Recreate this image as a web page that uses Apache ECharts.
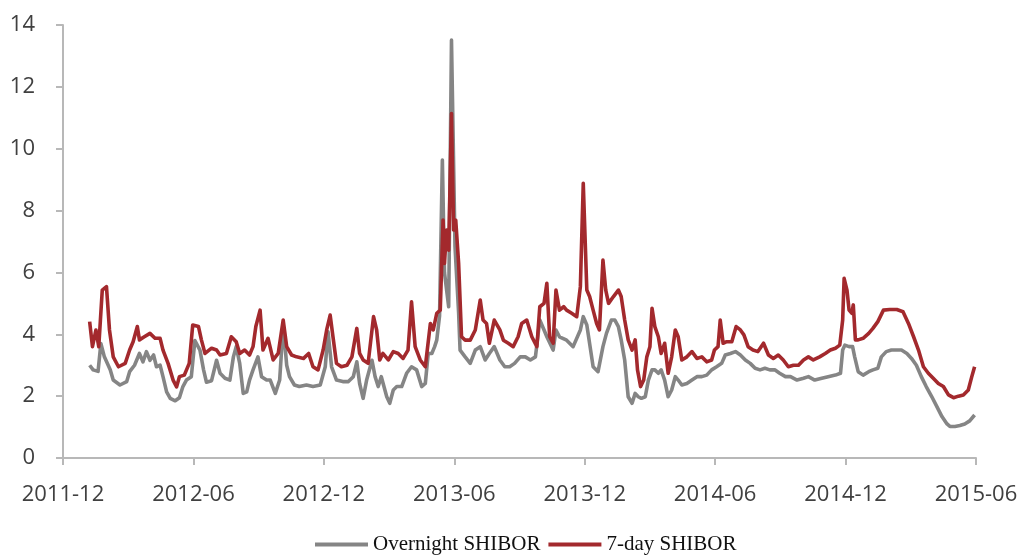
<!DOCTYPE html>
<html>
<head>
<meta charset="utf-8">
<script src="https://cdn.jsdelivr.net/npm/echarts@6/dist/echarts.min.js"></script>
<style>
html,body{margin:0;padding:0;background:#fff;}
#chart{width:1022px;height:556px;}
</style>
</head>
<body>
<div id="chart"></div>
<script>
// x-axis tick labels (every 6 months from 2011-12)
const tickLabels = ['2011-12','2012-06','2012-12','2013-06','2013-12','2014-06','2014-12','2015-06'];

// Overnight SHIBOR (%)
const ovDates = [
'2012-01-08','2012-01-13','2012-01-20','2012-01-24','2012-01-29','2012-02-06','2012-02-10','2012-02-19','2012-02-28','2012-03-03',
'2012-03-10','2012-03-17','2012-03-22','2012-03-27','2012-04-01','2012-04-06','2012-04-10','2012-04-15','2012-04-19','2012-04-24',
'2012-04-29','2012-05-06','2012-05-12','2012-05-17','2012-05-22','2012-05-29','2012-06-03','2012-06-10','2012-06-15','2012-06-19',
'2012-06-26','2012-07-03','2012-07-08','2012-07-15','2012-07-22','2012-07-27','2012-07-31','2012-08-05','2012-08-10','2012-08-15',
'2012-08-19','2012-08-24','2012-08-31','2012-09-05','2012-09-12','2012-09-17','2012-09-24','2012-09-30','2012-10-05','2012-10-10',
'2012-10-14','2012-10-21','2012-10-28','2012-11-07','2012-11-16','2012-11-26','2012-12-03','2012-12-07','2012-12-12','2012-12-19',
'2012-12-28','2013-01-05','2013-01-12','2013-01-17','2013-01-21','2013-01-26','2013-01-31','2013-02-07','2013-02-11','2013-02-15',
'2013-02-19','2013-02-26','2013-03-02','2013-03-07','2013-03-12','2013-03-19','2013-03-26','2013-04-02','2013-04-09','2013-04-16',
'2013-04-21','2013-04-25','2013-04-30','2013-05-04','2013-05-07','2013-05-11','2013-05-15','2013-05-18','2013-05-24','2013-05-28',
'2013-06-02','2013-06-07','2013-06-09','2013-06-16','2013-06-23','2013-06-30','2013-07-07','2013-07-14','2013-07-20','2013-07-27',
'2013-08-04','2013-08-11','2013-08-18','2013-08-25','2013-09-02','2013-09-09','2013-09-16','2013-09-23','2013-09-29','2013-10-05',
'2013-10-09','2013-10-18','2013-10-22','2013-10-27','2013-11-06','2013-11-15','2013-11-25','2013-11-29','2013-12-04','2013-12-13',
'2013-12-20','2013-12-27','2014-01-01','2014-01-08','2014-01-13','2014-01-18','2014-01-22','2014-01-27','2014-02-01','2014-02-06',
'2014-02-10','2014-02-14','2014-02-18','2014-02-23','2014-02-27','2014-03-04','2014-03-08','2014-03-13','2014-03-17','2014-03-22',
'2014-03-27','2014-04-01','2014-04-06','2014-04-10','2014-04-15','2014-04-22','2014-04-29','2014-05-06','2014-05-13','2014-05-20',
'2014-05-27','2014-06-03','2014-06-10','2014-06-15','2014-06-22','2014-06-29','2014-07-06','2014-07-13','2014-07-20','2014-07-27',
'2014-08-03','2014-08-10','2014-08-17','2014-08-24','2014-08-31','2014-09-08','2014-09-15','2014-09-24','2014-10-03','2014-10-10',
'2014-10-19','2014-10-29','2014-11-07','2014-11-17','2014-11-24','2014-11-27','2014-11-30','2014-12-06','2014-12-11','2014-12-14',
'2014-12-19','2014-12-26','2015-01-03','2015-01-09','2015-01-16','2015-01-21','2015-01-28','2015-02-04','2015-02-11','2015-02-17',
'2015-02-24','2015-03-02','2015-03-09','2015-03-16','2015-03-23','2015-03-31','2015-04-07','2015-04-14','2015-04-21','2015-04-25',
'2015-05-02','2015-05-09','2015-05-16','2015-05-23','2015-05-30'
];
const ovValues = [
3.0,2.85,2.8,3.7,3.27,2.85,2.52,2.36,2.47,2.79,
3.0,3.38,3.11,3.44,3.16,3.33,2.95,3.0,2.63,2.14,
1.93,1.85,1.95,2.31,2.52,2.63,3.8,3.49,2.85,2.45,
2.5,3.16,2.74,2.58,2.52,3.27,3.6,3.06,2.09,2.14,
2.52,2.85,3.27,2.63,2.52,2.52,2.09,2.52,4.3,3.0,
2.63,2.36,2.31,2.36,2.31,2.36,2.95,4.08,2.95,2.52,
2.47,2.47,2.63,3.11,2.41,1.93,2.52,3.16,2.63,2.31,
2.63,1.98,1.77,2.2,2.31,2.31,2.74,2.95,2.85,2.31,
2.41,3.38,3.38,3.6,3.81,4.6,9.63,6.0,4.89,13.51,
6.83,4.68,3.49,3.27,3.06,3.49,3.6,3.17,3.38,3.6,
3.17,2.95,2.95,3.06,3.27,3.27,3.17,3.27,4.46,4.14,
3.92,3.49,4.14,3.92,3.81,3.6,4.14,4.57,4.3,2.95,
2.79,3.6,4.03,4.46,4.46,4.25,3.82,3.17,1.98,1.77,
2.09,1.98,1.93,1.98,2.52,2.85,2.85,2.74,2.85,2.52,
1.98,2.2,2.63,2.52,2.36,2.41,2.52,2.63,2.63,2.68,
2.85,2.95,3.06,3.33,3.38,3.44,3.33,3.17,3.06,2.9,
2.85,2.9,2.85,2.85,2.74,2.63,2.63,2.52,2.58,2.63,
2.52,2.58,2.63,2.68,2.74,3.49,3.65,3.6,3.6,3.27,
2.79,2.68,2.79,2.85,2.9,3.27,3.44,3.49,3.49,3.49,
3.38,3.22,3.0,2.63,2.31,1.98,1.66,1.34,1.1,1.02,
1.02,1.05,1.1,1.2,1.39
];

// 7-day SHIBOR (%)
const sdDates = [
'2012-01-08','2012-01-12','2012-01-17','2012-01-21','2012-01-26','2012-02-01','2012-02-05','2012-02-10','2012-02-17','2012-02-26',
'2012-03-03','2012-03-08','2012-03-14','2012-03-17','2012-03-24','2012-04-01','2012-04-08','2012-04-15','2012-04-19','2012-04-26',
'2012-05-03','2012-05-08','2012-05-12','2012-05-19','2012-05-26','2012-05-31','2012-06-08','2012-06-12','2012-06-17','2012-06-26',
'2012-07-03','2012-07-08','2012-07-17','2012-07-24','2012-07-31','2012-08-05','2012-08-12','2012-08-19','2012-08-24','2012-08-28',
'2012-09-03','2012-09-07','2012-09-14','2012-09-21','2012-09-28','2012-10-05','2012-10-10','2012-10-17','2012-10-24','2012-11-03',
'2012-11-10','2012-11-16','2012-11-23','2012-11-30','2012-12-05','2012-12-10','2012-12-14','2012-12-19','2012-12-26','2013-01-03',
'2013-01-10','2013-01-17','2013-01-21','2013-01-26','2013-02-02','2013-02-09','2013-02-13','2013-02-17','2013-02-21','2013-02-28',
'2013-03-07','2013-03-14','2013-03-21','2013-03-28','2013-04-02','2013-04-07','2013-04-14','2013-04-21','2013-04-28','2013-05-02',
'2013-05-07','2013-05-12','2013-05-16','2013-05-18','2013-05-21','2013-05-24','2013-05-28','2013-05-31','2013-06-03','2013-06-07',
'2013-06-11','2013-06-16','2013-06-23','2013-06-30','2013-07-07','2013-07-11','2013-07-16','2013-07-20','2013-07-27','2013-08-04',
'2013-08-09','2013-08-16','2013-08-23','2013-08-30','2013-09-04','2013-09-11','2013-09-18','2013-09-25','2013-09-29','2013-10-05',
'2013-10-09','2013-10-13','2013-10-18','2013-10-22','2013-10-27','2013-11-02','2013-11-06','2013-11-13','2013-11-20','2013-11-25',
'2013-11-29','2013-12-04','2013-12-08','2013-12-13','2013-12-18','2013-12-22','2013-12-27','2013-12-31','2014-01-04','2014-01-11',
'2014-01-18','2014-01-22','2014-01-27','2014-02-01','2014-02-06','2014-02-10','2014-02-13','2014-02-17','2014-02-21','2014-02-25',
'2014-03-01','2014-03-04','2014-03-08','2014-03-13','2014-03-17','2014-03-22','2014-03-27','2014-04-01','2014-04-06','2014-04-10',
'2014-04-15','2014-04-22','2014-04-29','2014-05-06','2014-05-13','2014-05-20','2014-05-27','2014-05-31','2014-06-05','2014-06-08',
'2014-06-12','2014-06-17','2014-06-24','2014-06-30','2014-07-06','2014-07-11','2014-07-17','2014-07-24','2014-07-31','2014-08-08',
'2014-08-15','2014-08-22','2014-08-29','2014-09-05','2014-09-12','2014-09-19','2014-09-26','2014-10-03','2014-10-10','2014-10-17',
'2014-10-26','2014-11-03','2014-11-10','2014-11-17','2014-11-23','2014-11-27','2014-11-29','2014-12-03','2014-12-06','2014-12-10',
'2014-12-12','2014-12-15','2014-12-19','2014-12-26','2015-01-03','2015-01-09','2015-01-16','2015-01-24','2015-02-02','2015-02-11',
'2015-02-19','2015-02-26','2015-03-05','2015-03-12','2015-03-19','2015-03-26','2015-04-02','2015-04-09','2015-04-16','2015-04-23',
'2015-04-30','2015-05-07','2015-05-14','2015-05-21','2015-05-26','2015-05-30'
];
const sdValues = [
4.41,3.6,4.14,3.6,5.43,5.54,4.14,3.27,2.95,3.06,
3.49,3.76,4.25,3.82,3.92,4.03,3.87,3.87,3.49,3.06,
2.52,2.3,2.63,2.68,3.06,4.3,4.25,3.82,3.38,3.55,
3.49,3.33,3.38,3.92,3.76,3.38,3.49,3.33,3.6,4.25,
4.78,3.49,3.87,3.17,3.38,4.46,3.6,3.33,3.27,3.22,
3.38,2.95,2.85,3.49,4.14,4.62,3.92,3.06,2.95,3.0,
3.27,4.19,3.38,3.17,3.06,4.57,4.14,3.17,3.38,3.17,
3.44,3.38,3.22,3.49,5.05,3.6,3.17,2.95,4.35,4.14,
4.68,4.78,7.69,6.29,7.37,6.72,11.14,7.37,7.69,6.29,
3.92,3.81,3.81,4.14,5.11,4.46,4.35,3.71,4.46,4.14,
3.81,3.71,3.6,3.92,4.35,4.46,3.92,3.6,4.89,5.0,
5.65,3.92,3.71,5.43,4.78,4.89,4.78,4.68,4.57,5.54,
8.88,5.43,5.22,4.78,4.35,4.14,6.4,5.43,5.0,5.22,
5.43,5.22,4.46,3.82,3.49,3.82,2.85,2.31,2.52,3.27,
3.6,4.84,4.25,3.92,3.38,3.71,2.74,3.27,4.14,3.92,
3.17,3.27,3.44,3.22,3.27,3.11,3.17,3.49,3.6,4.46,
3.71,3.76,3.76,4.25,4.14,3.98,3.6,3.49,3.44,3.71,
3.33,3.22,3.33,3.17,2.95,3.0,3.0,3.17,3.27,3.17,
3.27,3.38,3.49,3.55,3.65,4.46,5.81,5.43,4.78,4.68,
4.95,3.82,3.82,3.87,4.03,4.19,4.41,4.78,4.8,4.8,
4.73,4.35,3.92,3.49,2.95,2.74,2.58,2.41,2.31,2.04,
1.95,2.0,2.04,2.2,2.63,2.95
];

// months elapsed since 2011-12-01
function monthIndex(s) {
  const p = s.split('-').map(Number);
  const dim = new Date(p[0], p[1], 0).getDate();
  return (p[0] - 2011) * 12 + (p[1] - 12) + (p[2] - 1) / dim;
}
const toPairs = (dates, vals) => dates.map((d, i) => [monthIndex(d), vals[i]]);

const axisFont = '"Open Sans", sans-serif';
const chart = echarts.init(document.getElementById('chart'), null, {renderer: 'canvas'});
chart.setOption({
  animation: false,
  backgroundColor: '#ffffff',
  grid: {left: 63, right: 46, top: 25, bottom: 98},
  legend: {
    left: 310, top: 529,
    itemWidth: 53, itemHeight: 4, itemGap: 8,
    icon: 'rect',
    textStyle: {fontFamily: '"Liberation Serif", "Times New Roman", serif', fontSize: 21, color: '#111111'},
    data: ['Overnight SHIBOR', '7-day SHIBOR']
  },
  xAxis: {
    type: 'value', min: 0, max: 42, interval: 6,
    axisLine: {show: true, lineStyle: {color: '#b8b8b8', width: 2}},
    axisTick: {show: true, length: 7, lineStyle: {color: '#b8b8b8', width: 2}},
    splitLine: {show: false},
    axisLabel: {
      margin: 26, fontFamily: axisFont, fontSize: 22, color: '#404040',
      formatter: v => tickLabels[Math.round(v / 6)] || ''
    }
  },
  yAxis: {
    type: 'value', min: 0, max: 14, interval: 2,
    axisLine: {show: true, lineStyle: {color: '#b8b8b8', width: 2}},
    axisTick: {show: true, length: 7, lineStyle: {color: '#b8b8b8', width: 2}},
    splitLine: {show: false},
    axisLabel: {margin: 28, fontFamily: axisFont, fontSize: 22, color: '#404040'}
  },
  series: [
    {
      name: 'Overnight SHIBOR', type: 'line', showSymbol: false, symbol: 'none',
      data: toPairs(ovDates, ovValues),
      itemStyle: {color: '#858585'},
      lineStyle: {color: '#858585', width: 3.6, join: 'round'}
    },
    {
      name: '7-day SHIBOR', type: 'line', showSymbol: false, symbol: 'none',
      data: toPairs(sdDates, sdValues),
      itemStyle: {color: '#a3292d'},
      lineStyle: {color: '#a3292d', width: 3.6, join: 'round'}
    }
  ]
});
</script>
</body>
</html>
